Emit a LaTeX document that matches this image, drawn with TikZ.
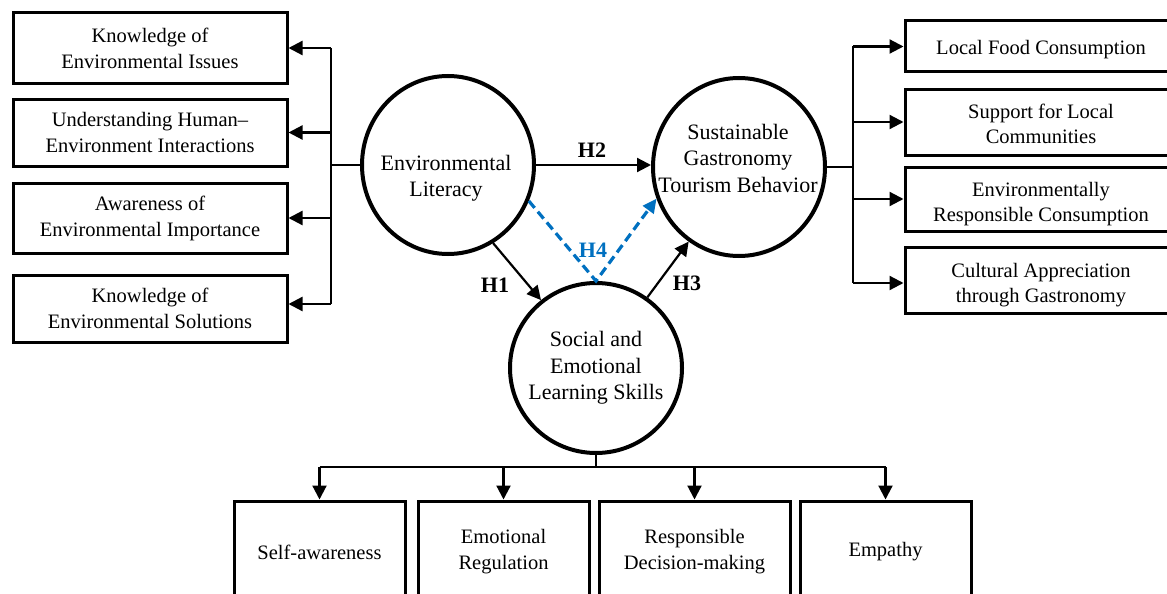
\documentclass[tikz,border=0pt]{standalone}
\usepackage{fontspec}
\setmainfont{Liberation Serif}
\usetikzlibrary{arrows.meta,shapes.geometric}
\definecolor{hblue}{HTML}{0070C0}
\begin{document}
\begin{tikzpicture}[x=1pt,y=-1pt,
  box/.style={draw, line width=3pt, rectangle, align=center, inner sep=0pt,
    font=\fontsize{20.5}{26}\selectfont},
  boxtext/.style={align=center, inner sep=0pt, font=\fontsize{20.5}{25}\selectfont},
  bubble/.style={draw, line width=4pt, ellipse, inner sep=0pt},
  bubtext/.style={align=center, inner sep=0pt, font=\fontsize{22}{26.5}\selectfont},
  conn/.style={line width=2.2pt},
  arr/.style={conn, -{Triangle[length=14pt,width=14pt]}},
  hlab/.style={font=\fontsize{22}{26}\selectfont\bfseries},
  hfour/.style={line width=3.2pt, hblue, dash pattern=on 9pt off 5pt, line join=miter,
    -{Triangle[length=14pt,width=13pt]}},
]
\useasboundingbox (0,0) rectangle (1167,594);

% left boxes
\node[box, minimum width=274pt, minimum height=70pt] (L1) at (150,48) {Knowledge of\\Environmental Issues};
\node[box, minimum width=274pt, minimum height=67pt] (L2) at (150,132.5) {Understanding Human–\\Environment Interactions};
\node[box, minimum width=274pt, minimum height=70pt] (L3) at (150,218) {Awareness of\\Environmental Importance};
\node[box, minimum width=274pt, minimum height=67pt] (L4) at (150,308.5) {Knowledge of\\Environmental Solutions};

% right boxes
\node[box, minimum width=272pt, minimum height=51pt,
  label={[boxtext, yshift=-3pt]center:Local Food Consumption}] (R1) at (1041,46.5) {};
\node[box, minimum width=272pt, minimum height=66pt,
  label={[boxtext, yshift=-2pt]center:Support for Local\\Communities}] (R2) at (1041,122) {};
\node[box, minimum width=272pt, minimum height=64pt,
  label={[boxtext, yshift=-5pt]center:Environmentally\\Responsible Consumption}] (R3) at (1041,199) {};
\node[box, minimum width=272pt, minimum height=66pt,
  label={[boxtext, yshift=-5pt]center:Cultural Appreciation\\through Gastronomy}] (R4) at (1041,280) {};

% bottom boxes
\node[box, minimum width=171pt, minimum height=102pt] (B1) at (319.5,552) {Self-awareness};
\node[box, minimum width=171pt, minimum height=102pt] (B2) at (503.5,552) {Emotional\\Regulation};
\node[box, minimum width=191pt, minimum height=102pt] (B3) at (694.5,552) {Responsible\\Decision-making};
\node[box, minimum width=171pt, minimum height=102pt] (B4) at (885.5,552) {Empathy};

% bubbles
\node[bubble, minimum width=172pt, minimum height=178pt] (EL) at (448,165) {};
\node[bubble, minimum width=172pt, minimum height=178pt] (SGTB) at (739,167) {};
\node[bubble, minimum width=172pt, minimum height=170pt] (SEL) at (596,368) {};
\node[bubtext] (ELt) at (446,178) {Environmental\\Literacy};
\node[bubtext] (SGTBt) at (738,158) {Sustainable\\Gastronomy\\Tourism Behavior};
\node[bubtext] (SELt) at (596,368) {Social and\\Emotional\\Learning Skills};

% bus coordinates
\coordinate (lbus) at (331,167);
\coordinate (rbus) at (853,164);
\coordinate (bbus) at (596,467);

% left connectors
\draw[conn] (EL.west) -- (EL.west -| lbus);
\draw[conn] (lbus |- L1.east) -- (lbus |- 0,304);
\foreach \n in {L1,L2,L3} \draw[arr] (lbus |- \n.east) -- (\n.east);
\draw[arr] (lbus |- 0,304) -- (L4.east |- 0,304);

% right connectors
\draw[conn] (SGTB.east) -- (SGTB.east -| rbus);
\draw[conn] (rbus |- R1.west) -- (rbus |- 0,283);
\foreach \n in {R1,R2,R3} \draw[arr] (rbus |- \n.west) -- (\n.west);
\draw[arr] (rbus |- 0,283) -- (R4.west |- 0,283);

% bottom connectors
\draw[conn] (SEL.south) -- (bbus);
\draw[conn] (B1.north |- bbus) -- (B4.north |- bbus);
\foreach \n in {B1,B2,B3,B4} \draw[arr] (\n.north |- bbus) -- (\n.north);

% hypotheses
\draw[arr] (EL.east) -- (EL.east -| SGTB.west);
\draw[arr] (EL.-60) -- (SEL.129);
\draw[arr] (SEL.54) -- (SGTB.-124);
\draw[hfour] (EL.-24) -- (SEL.north) -- (SGTB.201);

\node[hlab] (h2) at (592,150) {H2};
\node[hlab] (h1) at (495,285) {H1};
\node[hlab] (h3) at (687,283) {H3};
\node[hlab, text=hblue] (h4) at (593,250) {H4};
\end{tikzpicture}
\end{document}
